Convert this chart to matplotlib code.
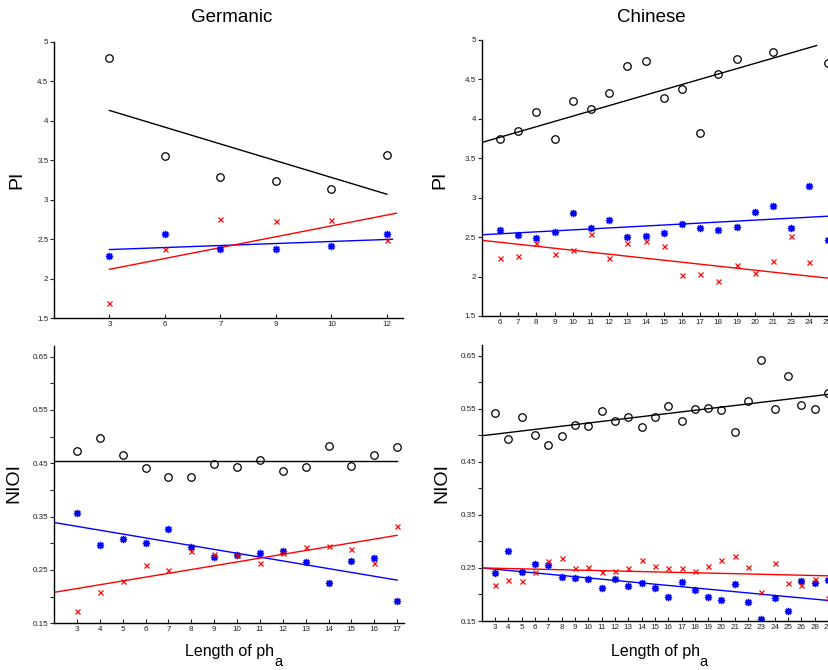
import numpy as np
import matplotlib
matplotlib.use("Agg")
import matplotlib.pyplot as plt
from matplotlib import font_manager

plt.rcParams['font.family'] = ['Liberation Sans', 'DejaVu Sans']

# ---------------- data ----------------
# Germanic PI
ger_pi_labels = ['3', '6', '7', '9', '10', '12']
ger_pi_black = [4.80, 3.56, 3.29, 3.24, 3.14, 3.57]
ger_pi_blue = [2.29, 2.57, 2.38, 2.38, 2.41, 2.57]
ger_pi_red = [1.69, 2.38, 2.76, 2.73, 2.74, 2.49]
ger_pi_black_line = ([1, 6], [4.13, 3.07])
ger_pi_blue_line = ([1, 6.1], [2.37, 2.50])
ger_pi_red_line = ([1, 6.17], [2.12, 2.83])

# Chinese PI
chi_pi_labels = ['6', '7', '8', '9', '10', '11', '12', '13', '14', '15', '16',
                 '17', '18', '19', '20', '21', '23', '24', '25', '26', '27']
chi_pi_black = [3.75, 3.85, 4.09, 3.75, 4.23, 4.12, 4.33, 4.67, 4.73, 4.26, 4.38,
                3.82, 4.57, 4.76, np.nan, 4.85, np.nan, np.nan, 4.71]
chi_pi_blue = [2.59, 2.53, 2.49, 2.56, 2.80, 2.62, 2.72, 2.50, 2.51, 2.55, 2.67,
               2.61, 2.59, 2.63, 2.82, 2.89, 2.61, 3.15, 2.46]
chi_pi_red = [2.24, 2.26, 2.42, 2.28, 2.34, 2.54, 2.24, 2.42, 2.45, 2.39, 2.02,
              2.03, 1.95, 2.15, 2.04, 2.20, 2.51, 2.19, np.nan]
chi_pi_black_line = ([0, 18.4], [3.70, 4.93])
chi_pi_blue_line = ([0, 21], [2.53, 2.79])
chi_pi_red_line = ([0, 21], [2.46, 1.93])

# Germanic NIOI
ger_ni_labels = [str(v) for v in range(3, 18)]
ger_ni_black = [0.473, 0.497, 0.465, 0.441, 0.424, 0.424, 0.448, 0.443, 0.456,
                0.436, 0.444, 0.482, 0.445, 0.466, 0.480]
ger_ni_blue = [0.357, 0.296, 0.309, 0.300, 0.327, 0.294, 0.274, 0.279, 0.282,
               0.285, 0.265, 0.226, 0.267, 0.273, 0.191]
ger_ni_red = [0.173, 0.209, 0.230, 0.260, 0.250, 0.285, 0.280, 0.278, 0.264,
              0.282, 0.293, 0.295, 0.290, 0.263, 0.332]
ger_ni_black_line = ([0, 15], [0.455, 0.455])
ger_ni_blue_line = ([0, 15], [0.339, 0.231])
ger_ni_red_line = ([0, 15], [0.208, 0.315])

# Chinese NIOI
chi_ni_labels = [str(v) for v in range(3, 27)] + ['28', '29', '30', '31']
chi_ni_black = [0.542, 0.493, 0.534, 0.501, 0.481, 0.499, 0.519, 0.518, 0.545,
                0.527, 0.534, 0.516, 0.534, 0.556, 0.527, 0.549, 0.551, 0.547,
                0.507, 0.564, 0.641, 0.549, 0.612, 0.557, 0.550, 0.580]
chi_ni_blue = [0.240, 0.281, 0.242, 0.257, 0.255, 0.233, 0.231, 0.230, 0.213,
               0.229, 0.216, 0.221, 0.212, 0.195, 0.223, 0.208, 0.195, 0.189,
               0.220, 0.185, 0.154, 0.193, 0.168, 0.226, 0.221, 0.228]
chi_ni_red = [0.218, 0.227, 0.225, 0.243, 0.263, 0.268, 0.250, 0.252, 0.243,
              0.245, 0.250, 0.264, 0.253, 0.250, 0.250, 0.244, 0.253, 0.265,
              0.273, 0.252, 0.205, 0.260, 0.221, 0.217, 0.230, 0.193]
chi_ni_black_line = ([0, 28], [0.499, 0.583])
chi_ni_blue_line = ([0, 28], [0.250, 0.184])
chi_ni_red_line = ([0, 28], [0.250, 0.234])

pi_ticks = [1.5, 2, 2.5, 3, 3.5, 4, 4.5, 5]
pi_ticklabels = ['1.5', '2', '2.5', '3', '3.5', '4', '4.5', '5']
ni_ticks = [0.15, 0.2, 0.25, 0.3, 0.35, 0.4, 0.45, 0.5, 0.55, 0.6, 0.65]
ni_ticklabels = ['0.15', '', '0.25', '', '0.35', '', '0.45', '', '0.55', '', '0.65']

# ---------------- figure ----------------
W, H = 829, 670
fig = plt.figure(figsize=(W / 100, H / 100), dpi=100)

installed = {f.name for f in font_manager.fontManager.ttflist}
narrow = 'Liberation Sans Narrow' if 'Liberation Sans Narrow' in installed else 'Liberation Sans'
xl_size = 13.5 if narrow == 'Liberation Sans Narrow' else 11.5


def make_ax(left, top, bottom, width):
    return fig.add_axes([left / W, 1 - bottom / H, width / W, (bottom - top) / H])


def style(ax, labels, ylim, yticks, yticklabels, nvis):
    n = len(labels)
    ax.set_xlim(0, nvis + 0.3)
    ax.set_xticks(np.arange(1, n + 1))
    ax.set_xticklabels(labels)
    ax.set_ylim(*ylim)
    ax.set_yticks(yticks)
    ax.set_yticklabels(yticklabels)
    for s in ['top', 'right']:
        ax.spines[s].set_visible(False)
    for s in ['left', 'bottom']:
        ax.spines[s].set_linewidth(1.0)
        ax.spines[s].set_color('black')
    ax.tick_params(axis='x', direction='in', length=3, width=0.8, labelsize=5.8,
                   pad=2, colors='#222222')
    ax.tick_params(axis='y', direction='out', length=3, width=0.8, labelsize=5.8,
                   pad=1, colors='#222222')


def draw(ax, black, blue, red, bl, bll, rl):
    xb = np.arange(1, len(black) + 1)
    xu = np.arange(1, len(blue) + 1)
    xr = np.arange(1, len(red) + 1)
    ax.plot(bl[0], bl[1], color='black', lw=1.0)
    ax.plot(bll[0], bll[1], color='blue', lw=1.0)
    ax.plot(rl[0], rl[1], color='red', lw=1.0)
    ax.plot(xb, black, 'o', mfc='none', mec='black', ms=5.4, mew=0.9)
    ax.plot(xu, blue, ls='none', marker=(8, 2, 0), color='blue', ms=5.2, mew=1.0)
    ax.plot(xr, red, 'x', color='red', ms=3.6, mew=0.9)


ax1 = make_ax(54, 41.7, 318.3, 349)
style(ax1, ger_pi_labels, (1.5, 5), pi_ticks, pi_ticklabels, 5.99)
draw(ax1, ger_pi_black, ger_pi_blue, ger_pi_red,
     ger_pi_black_line, ger_pi_blue_line, ger_pi_red_line)

ax2 = make_ax(481.7, 40, 316, 387.7)
style(ax2, chi_pi_labels, (1.5, 5), pi_ticks, pi_ticklabels, 21)
draw(ax2, chi_pi_black, chi_pi_blue, chi_pi_red,
     chi_pi_black_line, chi_pi_blue_line, chi_pi_red_line)

ax3 = make_ax(54, 346, 623.3, 350)
style(ax3, ger_ni_labels, (0.15, 0.67), ni_ticks, ni_ticklabels, 15)
draw(ax3, ger_ni_black, ger_ni_blue, ger_ni_red,
     ger_ni_black_line, ger_ni_blue_line, ger_ni_red_line)

ax4 = make_ax(481.7, 345, 621, 377)
style(ax4, chi_ni_labels, (0.15, 0.67), ni_ticks, ni_ticklabels, 28)
draw(ax4, chi_ni_black, chi_ni_blue, chi_ni_red,
     chi_ni_black_line, chi_ni_blue_line, chi_ni_red_line)

# texts
fig.text(232 / W, 1 - 17 / H, 'Germanic', ha='center', va='center', fontsize=13.5)
fig.text(651 / W, 1 - 17 / H, 'Chinese', ha='center', va='center', fontsize=13.5)
fig.text(17 / W, 1 - 180 / H, 'PI', rotation=90, ha='center', va='center', fontsize=14)
fig.text(440 / W, 1 - 180 / H, 'PI', rotation=90, ha='center', va='center', fontsize=14)
fig.text(14 / W, 1 - 483 / H, 'NIOI', rotation=90, ha='center', va='center', fontsize=14)
fig.text(442 / W, 1 - 483 / H, 'NIOI', rotation=90, ha='center', va='center', fontsize=14)

for x0 in (185, 610.7):
    t = fig.text(x0 / W, 1 - 656 / H, 'Length of ph', ha='left', va='baseline',
                 fontsize=xl_size, family=[narrow, 'DejaVu Sans'])
    fig.text((x0 + 89) / W, 1 - 666.5 / H, 'a', ha='left', va='baseline',
             fontsize=10.5, family=[narrow, 'DejaVu Sans'])

fig.savefig('out.png', dpi=100)
